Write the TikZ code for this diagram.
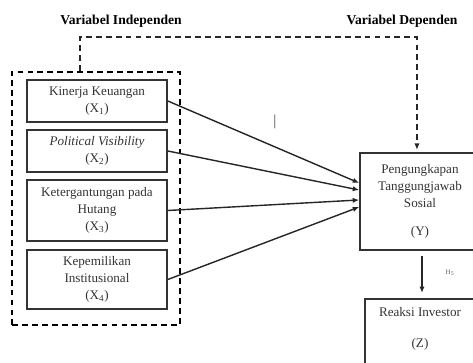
\documentclass[tikz,border=0pt]{standalone}
\usepackage{fontspec}
\setmainfont{Liberation Serif}
\usetikzlibrary{arrows.meta}

\tikzset{
  varbox/.style={draw=black!80, line width=1.4pt, minimum width=4.2cm, align=center, text=black!80, font=\fontsize{11.2}{14.5}\selectfont},
  groupbox/.style={draw, dash pattern=on 5pt off 3.5pt, line width=1.5pt, minimum width=5.04cm, minimum height=7.59cm},
  link/.style={draw=black!85, line width=1.2pt, -{Latex[length=5.5pt,width=4.5pt]}},
  headtext/.style={font=\bfseries\fontsize{11.6}{12}\selectfont}
}

\begin{document}
\begin{tikzpicture}[x=0.03cm,y=-0.03cm]
\useasboundingbox (0,0) rectangle (473,363);
\clip (0,0) rectangle (473,363);

\def\leftx{97}
\def\rightx{420}

\node[headtext] (tindep) at (121,21) {Variabel Independen};
\node[headtext] (tdep) at (402,21) {Variabel Dependen};

% independent variables
\node[groupbox] (indep) at (96,198.5) {};
\node[varbox, minimum height=1.26cm] (x1) at (\leftx,101) {Kinerja Keuangan\\(X\textsubscript{1})};
\node[varbox, minimum height=1.26cm] (x2) at (\leftx,151) {\textit{Political Visibility}\\(X\textsubscript{2})};
\node[varbox, minimum height=1.83cm] (x3) at (\leftx,210.5) {Ketergantungan pada\\Hutang\\(X\textsubscript{3})};
\node[varbox, minimum height=1.77cm] (x4) at (\leftx,279.5) {Kepemilikan\\Institusional\\(X\textsubscript{4})};

% dependent variables
\node[varbox, minimum width=3.6cm, minimum height=2.91cm] (y) at (\rightx,201.5) {Pengungkapan\\Tanggungjawab\\Sosial\\[9pt](Y)};
\node[varbox, minimum width=3.3cm, minimum height=3cm, anchor=north] (z) at (\rightx,298) {};
\node[align=center, text=black!80, font=\fontsize{11.2}{14.5}\selectfont] (zt) at (\rightx,329) {Reaksi Investor\\[12pt](Z)};

\node[text=black!70, font=\fontsize{13}{14}\selectfont] (mark) at (275,122) {\textbar};
\node[text=black!60, font=\fontsize{6}{7}\selectfont] (h5) at (450,273) {H\textsubscript{5}};

% arrows
\draw[link] (x1.east) -- ([yshift=15.8pt]y.west);
\draw[link] (x2.east) -- ([yshift=9.8pt]y.west);
\draw[link] (x3.east) -- ([yshift=1.3pt]y.west);
\draw[link] (x4.east) -- ([yshift=-4.7pt]y.west);
\draw[link, dash pattern=on 5pt off 3.5pt, line width=1.5pt, shorten >=2pt] ([xshift=-13.7pt]indep.north) -- ++(0,-34) -| ([xshift=-2.6pt]y.north);
\draw[link, shorten <=4.3pt, shorten >=4.3pt] ([xshift=1.7pt]y.south) -- ([xshift=1.7pt]z.north);

\end{tikzpicture}
\end{document}
